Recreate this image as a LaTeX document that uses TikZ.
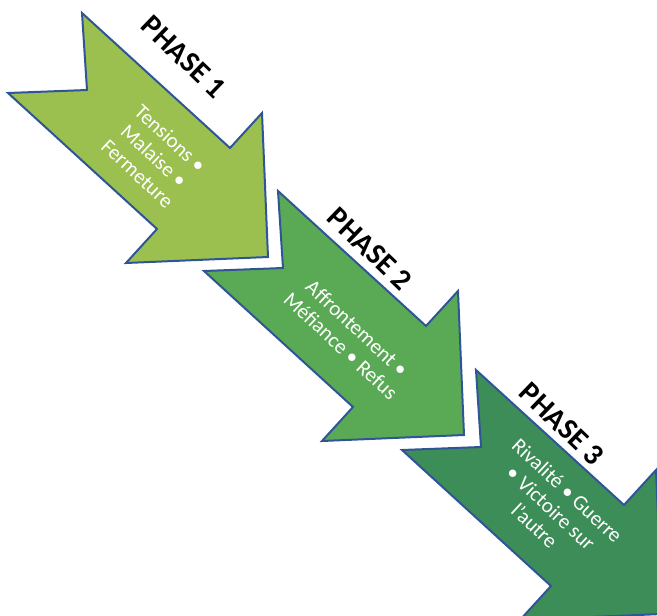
\documentclass[tikz,border=0pt]{standalone}
\usepackage{fontspec}
\setmainfont{Carlito}
\definecolor{phaseone}{HTML}{9BC04F}
\definecolor{phasetwo}{HTML}{5AAA55}
\definecolor{phasethree}{HTML}{3C8D57}
\definecolor{edgeblue}{HTML}{2F5597}
\tikzset{
  chevron/.style={draw=edgeblue, line width=2pt, line join=miter},
  steptext/.style={text=white, font=\fontsize{21}{24}\selectfont, align=center, rotate=-43},
  phaselabel/.style={font=\fontsize{30}{34}\selectfont\bfseries, rotate=-44},
}
\begin{document}
\begin{tikzpicture}[x=1pt,y=-1pt]
    % Frame
    \useasboundingbox (0,0) rectangle (657,616);
    \clip (0,0) rectangle (657,616);

    % Notched arrows
    \foreach \dx/\dy/\col in {0/0/phaseone, 196/178/phasetwo, 394/357/phasethree}
        \draw[chevron, fill=\col, shift={(\dx,\dy)}]
            (82,13) -- (230,148) -- (262,113) -- (268,257) -- (126,263)
            -- (157,229) -- (8,93) -- (87,90) -- cycle;

    % Texts inside the arrows
    \node[steptext] (txt1) at (154,156) {Tensions •\\Malaise •\\Fermeture};
    \node[steptext] (txt2) at (349,337) {Affrontement •\\Méfiance • Refus};
    \node[steptext] (txt3) at (551,508) {Rivalité • Guerre\\• Victoire sur\\l’autre};

    % Phase labels
    \node[phaselabel] (lbl1) at (184,57) {PHASE 1};
    \node[phaselabel] (lbl2) at (370,249) {PHASE 2};
    \node[phaselabel] (lbl3) at (562,424) {PHASE 3};
\end{tikzpicture}
\end{document}
